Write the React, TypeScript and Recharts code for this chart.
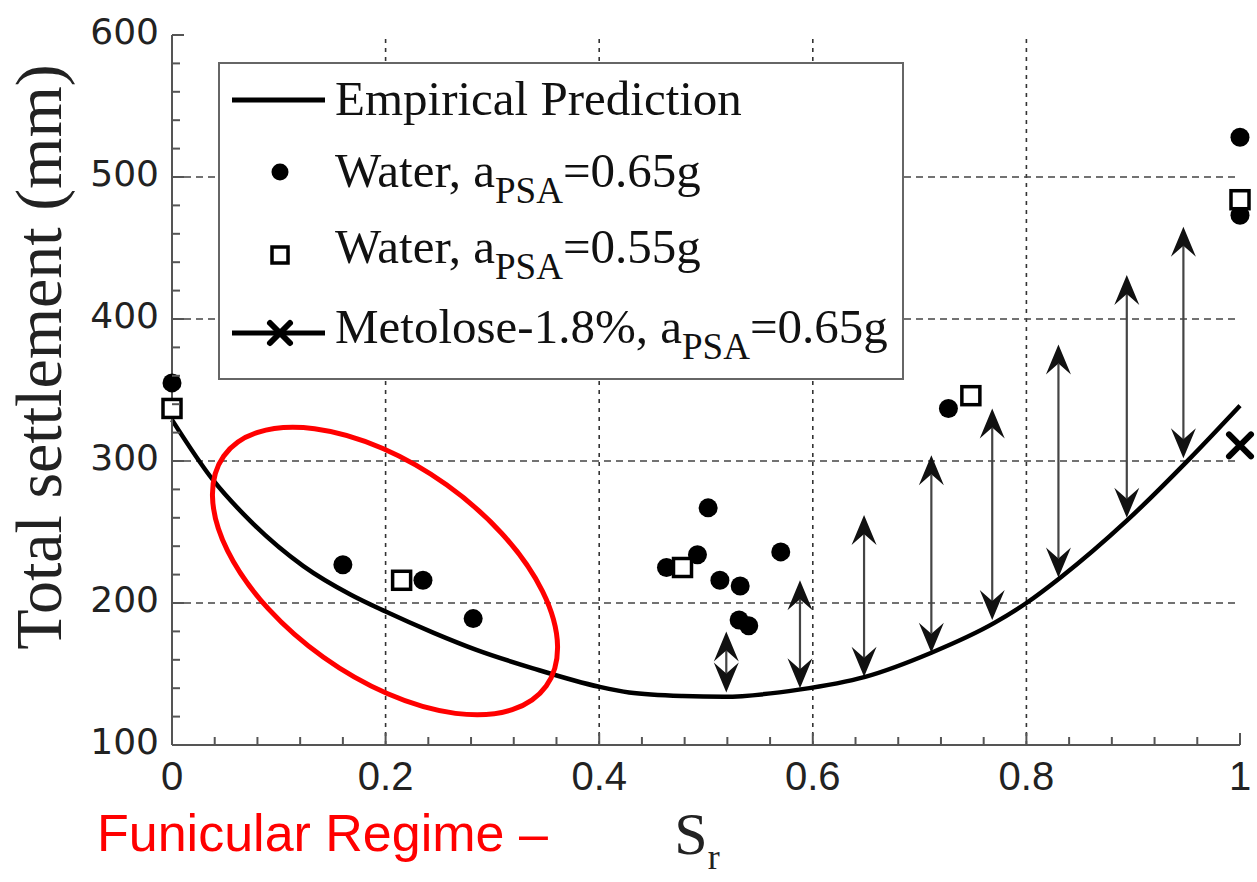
import React from 'react';
import { ComposedChart, Line, Scatter, XAxis, YAxis, ReferenceLine, Legend } from 'recharts';

// ---------- data ----------
const curveX = [0, 0.038, 0.073, 0.123, 0.167, 0.2, 0.245, 0.285, 0.338, 0.4, 0.428, 0.478, 0.517, 0.587, 0.649, 0.711, 0.77, 0.8, 0.832, 0.894, 0.952, 1.0];
const curveY = [329, 287, 258, 226, 206, 194, 179, 167, 154, 141, 137, 134.5, 134, 139, 148, 165, 186, 200, 218, 258, 301, 339];

const water065X = [0, 0.16, 0.235, 0.282, 0.463, 0.492, 0.502, 0.513, 0.532, 0.531, 0.54, 0.57, 0.727, 1.0, 1.0];
const water065Y = [355, 227, 216, 189, 225, 234, 267, 216, 212, 188, 184, 236, 337, 528, 473];

const water055X = [0, 0.215, 0.478, 0.748, 1.0];
const water055Y = [337, 216, 225, 346, 484];

const metoloseX = [1.0];
const metoloseY = [311];

const arrowX = [0.519, 0.588, 0.648, 0.711, 0.768, 0.83, 0.894, 0.947];
const arrowLow = [137, 140, 148, 165, 188, 218, 260, 302];
const arrowHigh = [180, 216, 262, 304, 337, 382, 431, 465];

const xMajorTicks = [0, 0.2, 0.4, 0.6, 0.8, 1];
const xTickLabels = ['0', '0.2', '0.4', '0.6', '0.8', '1'];
const xMinorTicks = [0.04, 0.08, 0.12, 0.16, 0.24, 0.28, 0.32, 0.36, 0.44, 0.48, 0.52, 0.56, 0.64, 0.68, 0.72, 0.76, 0.84, 0.88, 0.92, 0.96];
const yMajorTicks = [100, 200, 300, 400, 500, 600];
const yTickLabels = ['100', '200', '300', '400', '500', '600'];
const yMinorTicks = [120, 140, 160, 180, 220, 240, 260, 280, 320, 340, 360, 380, 420, 440, 460, 480, 520, 540, 560, 580];
const xGrid = [0.2, 0.4, 0.6, 0.8];
const yGrid = [200, 300, 400, 500];

// funicular-regime ellipse: major-axis end points in data units
const ellipseStart = { x: 0.0485, y: 303.5 };
const ellipseEnd = { x: 0.3504, y: 141.5 };
const ellipseRatio = 0.535;

// ---------- derived tables ----------
const curveData = curveX.map((x, i) => ({ x, y: curveY[i] }));
const water065Data = water065X.map((x, i) => ({ x, y: water065Y[i] }));
const water055Data = water055X.map((x, i) => ({ x, y: water055Y[i] }));
const metoloseData = metoloseX.map((x, i) => ({ x, y: metoloseY[i] }));
const xAllTicks = [...xMajorTicks, ...xMinorTicks].sort((a, b) => a - b);
const yAllTicks = [...yMajorTicks, ...yMinorTicks].sort((a, b) => a - b);

const SERIF = '"Liberation Serif", "Times New Roman", serif';
const SANS = '"Liberation Sans", Arial, sans-serif';
const AXIS = '#555';

const majorIndex = (v: number, arr: number[]) => arr.findIndex((m) => Math.abs(m - v) < 1e-6);

const BottomTick = (p: any) => {
  const idx = majorIndex(p.payload.value, xMajorTicks);
  const major = idx >= 0;
  return (
    <g>
      <line x1={p.x} y1={p.y} x2={p.x} y2={p.y - (major ? 12 : 8)} stroke={AXIS} strokeWidth={2} />
      {major && (
        <text x={p.x} y={p.y + 45} textAnchor="middle" fontFamily={SANS} fontSize={40} fill="#222">
          {xTickLabels[idx]}
        </text>
      )}
    </g>
  );
};
const TopTick = (p: any) => {
  const major = majorIndex(p.payload.value, xMajorTicks) >= 0;
  return <line x1={p.x} y1={p.y} x2={p.x} y2={p.y + (major ? 12 : 8)} stroke={AXIS} strokeWidth={2} />;
};
const LeftTick = (p: any) => {
  const idx = majorIndex(p.payload.value, yMajorTicks);
  const major = idx >= 0;
  return (
    <g>
      <line x1={p.x} y1={p.y} x2={p.x + (major ? 12 : 8)} y2={p.y} stroke={AXIS} strokeWidth={2} />
      {major && (
        <text x={p.x - 13} y={p.y + 9} textAnchor="end" fontFamily='"DejaVu Sans", Verdana, sans-serif' fontSize={36} fill="#222">
          {yTickLabels[idx]}
        </text>
      )}
    </g>
  );
};
const RightTick = (p: any) => {
  const major = majorIndex(p.payload.value, yMajorTicks) >= 0;
  return <line x1={p.x} y1={p.y} x2={p.x - (major ? 12 : 8)} y2={p.y} stroke={AXIS} strokeWidth={2} />;
};

const ArrowShape = (p: any) => {
  const { x1, y1, x2, y2 } = p;
  const w = 12.5;
  const l = 30;
  const n = 19;
  return (
    <g>
      <line x1={x1} y1={y1 - n} x2={x2} y2={y2 + n} stroke="#444" strokeWidth={2.2} />
      <polygon points={`${x2},${y2} ${x2 + w},${y2 + l} ${x2},${y2 + n} ${x2 - w},${y2 + l}`} fill="#111" />
      <polygon points={`${x1},${y1} ${x1 + w},${y1 - l} ${x1},${y1 - n} ${x1 - w},${y1 - l}`} fill="#111" />
    </g>
  );
};

const EllipseShape = (p: any) => {
  const { x1, y1, x2, y2 } = p;
  const cx = (x1 + x2) / 2;
  const cy = (y1 + y2) / 2;
  const rx = Math.hypot(x2 - x1, y2 - y1) / 2;
  const ang = (Math.atan2(y2 - y1, x2 - x1) * 180) / Math.PI;
  return (
    <ellipse cx={cx} cy={cy} rx={rx} ry={rx * ellipseRatio} transform={`rotate(${ang} ${cx} ${cy})`} fill="none" stroke="#ff0000" strokeWidth={5} />
  );
};

const DotShape = (p: any) => <circle cx={p.cx} cy={p.cy} r={9.5} fill="#000" />;
const SquareShape = (p: any) => <rect x={p.cx - 9} y={p.cy - 9} width={18} height={18} fill="#fff" stroke="#000" strokeWidth={3.5} />;
const CrossShape = (p: any) => (
  <g stroke="#000" strokeWidth={6} strokeLinecap="round">
    <line x1={p.cx - 11} y1={p.cy - 11} x2={p.cx + 11} y2={p.cy + 11} />
    <line x1={p.cx - 11} y1={p.cy + 11} x2={p.cx + 11} y2={p.cy - 11} />
  </g>
);

const YLabel = () => (
  <text x={61} y={357} transform="rotate(-90 61 357)" textAnchor="middle" fontFamily={SERIF} fontSize={66} fill="#222">
    Total settlement (mm)
  </text>
);
const XLabel = (p: any) => {
  const vb = p.viewBox || {};
  const x = vb.x + vb.width * 0.4916;
  const y = 745 + 109;
  return (
    <text x={x} y={y} textAnchor="middle" fontFamily={SERIF} fill="#222">
      <tspan fontSize={60}>S</tspan>
      <tspan fontSize={36} dy={15}>r</tspan>
    </text>
  );
};

const legendText: React.CSSProperties = {
  position: 'absolute',
  left: 115,
  fontFamily: SERIF,
  fontSize: 49,
  lineHeight: '49px',
  color: '#111',
  whiteSpace: 'nowrap',
};
const Sub = ({ children }: any) => <span style={{ fontSize: 37, verticalAlign: -16 }}>{children}</span>;

const LegendBox = () => (
  <div style={{ position: 'relative', width: 686, height: 318, border: '2px solid #666', background: '#fff', boxSizing: 'border-box' }}>
    <svg width={686} height={318} style={{ position: 'absolute', left: -2, top: -2 }}>
      <line x1={14} y1={38} x2={107} y2={38} stroke="#000" strokeWidth={5} />
      <circle cx={62} cy={110} r={8.5} fill="#000" />
      <rect x={54} y={185} width={16} height={16} fill="#fff" stroke="#000" strokeWidth={3.5} />
      <line x1={14} y1={271} x2={107} y2={271} stroke="#000" strokeWidth={5} />
      <g stroke="#000" strokeWidth={6} strokeLinecap="round">
        <line x1={52} y1={261} x2={72} y2={281} />
        <line x1={52} y1={281} x2={72} y2={261} />
      </g>
    </svg>
    <div style={{ ...legendText, top: 10 }}>Empirical Prediction</div>
    <div style={{ ...legendText, top: 82 }}>Water, a<Sub>PSA</Sub>=0.65g</div>
    <div style={{ ...legendText, top: 158 }}>Water, a<Sub>PSA</Sub>=0.55g</div>
    <div style={{ ...legendText, top: 238 }}>Metolose-1.8%, a<Sub>PSA</Sub>=0.65g</div>
  </div>
);

export default function App() {
  return (
    <div style={{ position: 'absolute', left: 0, top: 0, width: 1257, height: 882, overflow: 'hidden', background: '#fff' }}>
      <ComposedChart width={1257} height={882} margin={{ top: 35, right: 17, bottom: 77, left: 0 }}>
        <XAxis dataKey="x" type="number" domain={[0, 1]} ticks={xAllTicks} interval={0}
          height={60} tickSize={0} tickMargin={0} tickLine={false} tick={BottomTick}
          axisLine={{ stroke: AXIS, strokeWidth: 2 }} label={{ content: XLabel }} />
        <XAxis xAxisId="top" orientation="top" dataKey="x" type="number" domain={[0, 1]} ticks={xAllTicks} interval={0}
          height={0} tickSize={0} tickMargin={0} tickLine={false} tick={TopTick} axisLine={{ stroke: AXIS, strokeWidth: 2 }} />
        <YAxis type="number" domain={[100, 600]} ticks={yAllTicks} interval={0}
          width={172} tickSize={0} tickMargin={0} tickLine={false} tick={LeftTick}
          axisLine={{ stroke: AXIS, strokeWidth: 2 }} label={{ content: YLabel }} />
        <YAxis yAxisId="right" orientation="right" type="number" domain={[100, 600]} ticks={yAllTicks} interval={0}
          width={0} tickSize={0} tickMargin={0} tickLine={false} tick={RightTick} axisLine={{ stroke: AXIS, strokeWidth: 2 }} />

        {xGrid.map((v) => (
          <ReferenceLine key={'gx' + v} x={v} stroke="#333" strokeWidth={1.6} strokeDasharray="4 5" />
        ))}
        {yGrid.map((v) => (
          <ReferenceLine key={'gy' + v} y={v} stroke="#444" strokeWidth={1.6} strokeDasharray="7 5" />
        ))}

        <Legend layout="horizontal" verticalAlign="middle" align="center" content={() => <LegendBox />}
          wrapperStyle={{ position: 'absolute', left: 218, top: 62, width: 686, height: 318 }} />

        {arrowX.map((x, i) => (
          <ReferenceLine key={'ar' + i} segment={[{ x, y: arrowLow[i] }, { x, y: arrowHigh[i] }]} shape={ArrowShape} ifOverflow="visible" />
        ))}

        <Line data={curveData} dataKey="y" type="monotone" stroke="#000" strokeWidth={4.5} dot={false} isAnimationActive={false} legendType="none" />
        <Scatter data={water065Data} dataKey="y" shape={DotShape} isAnimationActive={false} />
        <Scatter data={water055Data} dataKey="y" shape={SquareShape} isAnimationActive={false} />
        <Scatter data={metoloseData} dataKey="y" shape={CrossShape} isAnimationActive={false} />

        <ReferenceLine segment={[ellipseStart, ellipseEnd]} shape={EllipseShape} ifOverflow="visible" />
      </ComposedChart>
      <div style={{ position: 'absolute', left: 97, top: 807, fontFamily: SANS, fontSize: 52, lineHeight: '52px', color: '#ff0000', whiteSpace: 'nowrap' }}>
        Funicular Regime –
      </div>
    </div>
  );
}
